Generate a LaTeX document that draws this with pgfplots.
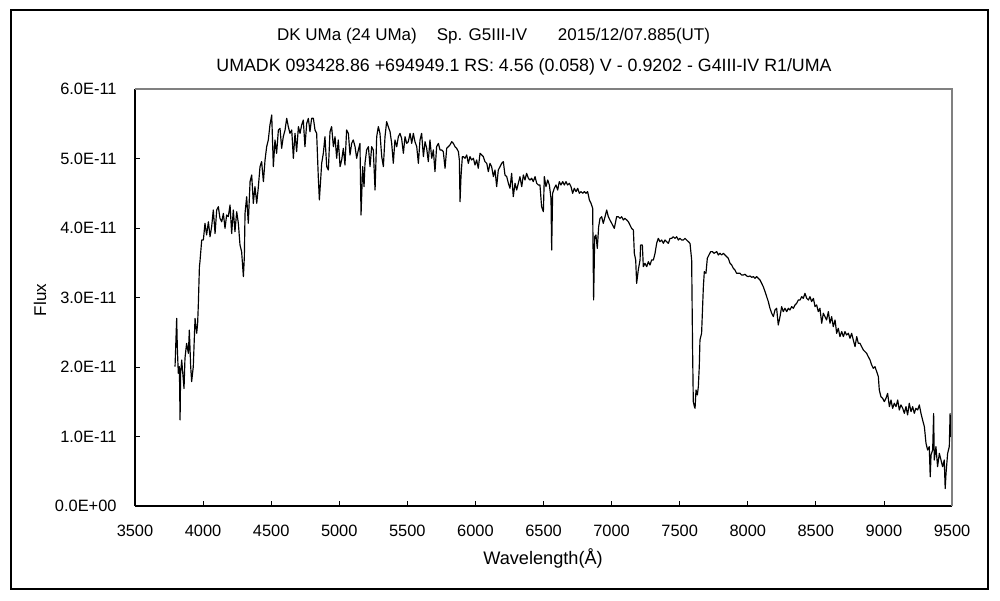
\documentclass[border=0pt]{standalone}
\usepackage{pgfplots}
\pgfplotsset{compat=1.18}
\usepackage{fontspec}
\setmainfont{Liberation Sans}
\begin{document}
\begin{tikzpicture}[x=1cm,y=1cm]
\path[use as bounding box] (0,0) rectangle (30,18);
\draw[line width=0.9pt] (0.33,0.33) rectangle (29.64,17.7);
\begin{axis}[
 at={(4.05cm,2.82cm)}, anchor=south west,
 width=24.51cm, height=12.51cm, scale only axis,
 xmin=3500, xmax=9500, ymin=0, ymax=6,
 axis x line*=bottom, axis y line*=left,
 axis line style={line width=0.9pt, -},
 xtick={3500,4000,...,9500},
 ytick={0,1,...,6},
 yticklabels={0.0E+00,1.0E-11,2.0E-11,3.0E-11,4.0E-11,5.0E-11,6.0E-11},
 tick align=inside, major tick length=0.15cm,
 tick style={black, line width=0.6pt},
 /pgf/number format/1000 sep={},
 /pgf/number format/assume math mode=true,
 ticklabel style={font=\fontsize{14}{16}\selectfont},
 xticklabel style={yshift=-0.45cm},
 yticklabel style={xshift=-0.43cm},
]
\addplot[black, line width=1pt, line join=round] coordinates {
(3794,2.005)(3806,2.70)(3811,2.27)(3818,1.91)(3826,2.005)(3831,1.238)(3835,1.91)(3843,2.10)(3860,1.69)(3867,2.125)
(3879,2.34)(3892,2.197)(3899,2.53)(3909,2.005)(3916,1.79)(3928,2.005)(3941,2.70)(3953,2.485)(3960,2.63)(3965,2.892)
(3973,3.44)(3977,3.516)(3990,3.828)(4002,3.828)(4014,4.067)(4026,3.90)(4039,4.09)(4051,3.875)(4063,4.02)(4075,4.26)
(4088,3.92)(4100,4.26)(4112,4.307)(4124,4.14)(4137,4.09)(4149,4.21)(4161,3.995)(4173,4.187)(4185,4.163)(4198,4.331)
(4210,3.92)(4222,4.26)(4234,3.947)(4247,4.235)(4259,4.067)(4271,3.756)(4283,3.66)(4296,3.30)(4303,3.58)(4308,4.21)
(4320,4.45)(4332,4.067)(4345,4.667)(4357,4.763)(4369,4.355)(4381,4.595)(4394,4.355)(4406,4.595)(4418,4.883)(4430,4.955)
(4443,4.667)(4455,4.979)(4467,5.17)(4479,5.267)(4491,5.482)(4504,5.626)(4516,4.883)(4528,5.267)(4540,5.075)(4553,5.41)
(4565,5.434)(4577,5.147)(4589,5.314)(4602,5.41)(4614,5.578)(4626,5.458)(4638,5.362)(4651,5.41)(4663,5.003)(4675,5.362)
(4687,5.099)(4700,5.458)(4712,5.362)(4724,5.482)(4736,5.554)(4748,5.17)(4761,5.506)(4773,5.578)(4785,5.386)(4797,5.578)
(4810,5.578)(4822,5.41)(4834,5.362)(4846,4.739)(4854,4.403)(4871,4.931)(4883,5.075)(4895,5.314)(4908,4.883)(4920,4.835)
(4932,5.386)(4944,5.458)(4957,5.17)(4969,5.314)(4981,5.003)(4993,5.267)(5006,4.883)(5018,4.979)(5030,5.147)(5042,4.907)
(5054,5.41)(5067,5.362)(5079,5.051)(5091,5.218)(5103,5.267)(5116,5.17)(5128,5.003)(5140,5.123)
(5152,5.218)(5160,4.187)(5172,4.883)(5182,4.595)(5189,4.931)(5201,5.123)(5214,5.17)(5226,4.883)(5238,5.17)(5250,5.123)
(5263,4.547)(5275,5.314)(5287,5.458)(5299,5.362)(5312,5.027)(5324,4.883)(5336,5.314)(5348,5.53)(5360,5.458)(5373,5.386)
(5385,5.218)(5397,4.931)(5409,5.267)(5422,5.17)(5434,5.314)(5446,5.362)(5458,5.29)(5471,5.075)(5483,5.314)(5495,5.218)
(5507,5.242)(5520,5.362)(5532,5.218)(5544,5.362)(5556,5.242)(5569,5.17)(5581,4.931)(5593,5.267)(5605,5.362)(5618,5.027)
(5630,5.242)(5642,5.147)(5654,4.955)(5666,5.267)(5679,5.003)(5691,5.123)(5703,4.811)(5715,5.17)(5728,5.218)(5740,5.123)
(5752,5.123)(5764,5.099)(5777,4.859)(5789,5.147)(5801,5.17)(5813,5.195)(5826,5.242)(5838,5.218)(5850,5.17)(5862,5.147)
(5875,5.099)(5882,4.979)(5887,4.379)(5894,4.739)(5904,5.027)(5911,5.027)(5924,5.003)(5936,5.051)(5948,4.931)(5960,5.027)
(5972,4.979)(5985,5.003)(5997,4.907)(6009,4.979)(6021,4.859)(6034,5.075)(6046,5.051)(6058,5.027)(6070,4.955)(6083,4.931)
(6095,4.811)(6107,4.931)(6119,4.883)(6132,4.739)(6144,4.835)(6156,4.595)(6168,4.835)(6181,4.883)(6193,4.931)(6205,4.955)
(6217,4.763)(6230,4.739)(6242,4.643)(6254,4.571)(6266,4.787)(6278,4.451)(6291,4.643)(6303,4.547)(6315,4.643)(6327,4.739)
(6340,4.595)(6352,4.763)(6364,4.691)(6376,4.787)(6389,4.715)(6401,4.691)(6413,4.715)(6425,4.667)(6438,4.739)(6450,4.643)
(6462,4.619)
(6474,4.619)(6486,4.307)(6499,4.235)(6506,4.739)(6518,4.595)(6531,4.691)(6543,4.619)(6555,4.427)(6560,3.683)(6567,4.499)
(6579,4.571)(6592,4.619)(6604,4.547)(6616,4.667)(6628,4.619)(6641,4.667)(6653,4.619)(6665,4.667)(6677,4.619)(6690,4.643)
(6702,4.595)(6714,4.499)(6726,4.571)(6739,4.523)(6751,4.571)(6763,4.499)(6775,4.523)(6788,4.499)(6800,4.523)(6812,4.499)
(6824,4.523)(6837,4.403)(6849,4.355)(6861,4.283)(6868,2.964)(6876,3.875)(6885,3.899)(6895,3.707)(6905,4.019)(6915,4.139)
(6927,4.163)(6939,4.067)(6952,4.163)(6964,4.259)(6976,4.163)(6988,4.115)(7001,4.067)(7020,3.995)(7037,4.163)(7049,4.163)
(7062,4.139)(7074,4.163)(7086,4.115)(7098,4.139)(7111,4.115)(7123,4.091)(7135,4.043)(7147,3.995)(7160,3.971)(7167,3.636)
(7177,3.540)(7184,3.204)(7196,3.396)(7209,3.540)(7213,3.755)(7226,3.755)(7233,3.444)(7245,3.492)(7258,3.444)(7270,3.516)
(7282,3.468)(7294,3.540)(7307,3.540)(7319,3.636)(7331,3.779)(7343,3.851)(7355,3.803)(7368,3.827)(7380,3.779)(7392,3.827)
(7404,3.803)(7417,3.779)(7429,3.851)(7441,3.851)(7453,3.875)(7466,3.851)(7478,3.875)(7490,3.827)(7502,3.851)(7515,3.827)
(7527,3.827)(7539,3.851)(7551,3.827)(7564,3.803)(7576,3.779)(7588,3.540)
(7595,2.221)(7600,1.502)(7608,1.430)(7613,1.406)(7620,1.669)(7630,1.598)(7637,1.717)(7644,2.005)(7649,2.389)(7661,2.485)
(7674,3.156)(7681,3.372)(7693,3.348)(7703,3.564)(7715,3.612)(7728,3.660)(7740,3.660)(7752,3.636)(7772,3.660)(7784,3.612)
(7796,3.636)(7808,3.612)(7821,3.636)(7833,3.612)(7845,3.588)(7857,3.564)(7870,3.492)(7882,3.468)(7894,3.420)(7906,3.396)
(7918,3.348)(7931,3.348)(7943,3.348)(7955,3.324)(7967,3.324)(7980,3.334)(7992,3.310)(8004,3.300)(8016,3.310)(8029,3.291)
(8041,3.300)(8053,3.276)(8065,3.300)(8078,3.276)(8090,3.252)(8102,3.204)(8114,3.156)(8127,3.084)(8139,3.012)(8151,2.941)
(8163,2.845)(8176,2.773)(8188,2.725)(8200,2.821)(8212,2.845)(8224,2.605)(8237,2.725)(8249,2.869)(8261,2.797)(8273,2.845)
(8286,2.797)(8298,2.845)(8310,2.821)(8322,2.869)(8335,2.845)(8347,2.893)(8359,2.916)(8371,2.964)(8384,2.964)(8396,3.012)
(8408,2.988)(8420,3.060)(8433,2.988)(8445,2.964)(8457,3.012)(8469,2.941)(8482,2.988)(8494,2.869)(8506,2.893)(8518,2.797)
(8530,2.845)(8543,2.629)(8555,2.773)(8567,2.725)(8579,2.677)(8592,2.797)(8604,2.629)(8616,2.725)(8628,2.581)(8641,2.677)
(8653,2.485)(8665,2.557)(8677,2.437)(8690,2.509)(8702,2.437)(8714,2.509)(8726,2.461)(8739,2.485)(8751,2.413)(8763,2.485)
(8775,2.389)(8788,2.293)(8800,2.437)(8812,2.341)
(8824,2.341)(8836,2.293)(8849,2.245)(8861,2.221)(8873,2.197)(8885,2.149)(8898,2.101)(8910,2.029)(8922,1.981)(8934,2.005)
(8947,1.933)(8959,1.861)(8966,1.669)(8978,1.573)(8991,1.549)(9003,1.502)(9015,1.549)(9027,1.621)(9040,1.430)(9052,1.525)
(9064,1.406)(9076,1.478)(9089,1.430)(9101,1.525)(9113,1.382)(9125,1.454)(9138,1.406)(9150,1.334)(9162,1.430)(9174,1.310)
(9186,1.478)(9199,1.358)(9211,1.430)(9223,1.334)(9235,1.406)(9248,1.382)(9260,1.454)(9272,1.334)(9284,1.238)(9297,1.142)
(9309,0.902)(9321,0.806)(9333,0.854)(9340,0.42)(9346,0.734)(9358,0.806)(9365,1.33)(9370,0.662)(9382,0.854)(9394,0.566)
(9407,0.758)(9419,0.662)(9431,0.566)(9443,0.662)(9450,0.25)(9456,0.470)(9468,0.758)(9480,0.854)(9486,1.33)(9492,0.998)(9500,1.094)
};
\end{axis}
\draw[gray, line width=0.9pt] (4.05,15.33) -- (28.56,15.33) -- (28.56,2.82);
\begin{scope}[every node/.style={font=\fontsize{14.5}{16}\selectfont, inner sep=0pt}]
\node at (10.41,16.92) {DK UMa (24 UMa)};
\node at (14.46,16.92) {Sp. G5III-IV};
\node at (19.02,16.92) {2015/12/07.885(UT)};
\node[font=\fontsize{15.2}{17}\selectfont] at (15.72,15.99) {UMADK 093428.86 +694949.1 RS: 4.56 (0.058) V - 0.9202 - G4III-IV R1/UMA};
\node[font=\fontsize{15.5}{17}\selectfont] at (16.29,1.26) {Wavelength(Å)};
\node[rotate=90] at (1.2,9.0) {Flux};
\end{scope}
\end{tikzpicture}
\end{document}
